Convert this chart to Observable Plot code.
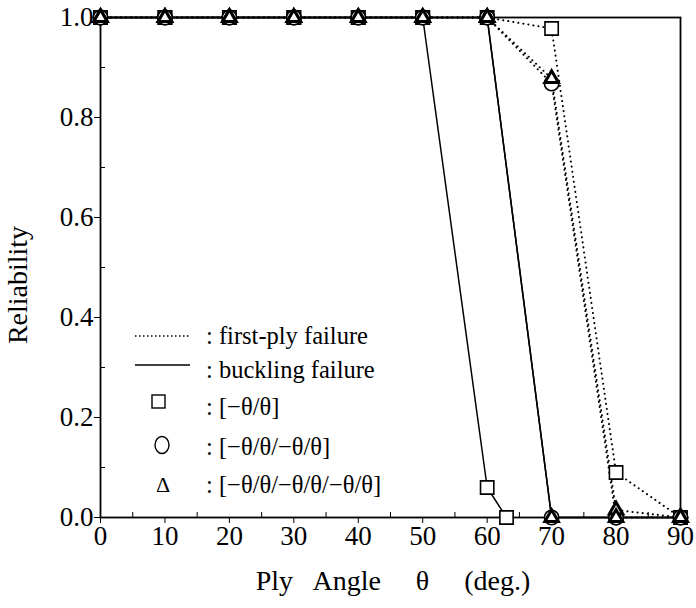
<!DOCTYPE html>
<html><head><meta charset="utf-8">
<script src="https://cdn.jsdelivr.net/npm/d3@7"></script>
<script src="https://cdn.jsdelivr.net/npm/@observablehq/plot@0.6"></script>
<style>
body{margin:0;background:#fff;}
#wrap{position:relative;width:696px;height:608px;}
</style></head><body><div id="wrap"></div>
<script>
// ---- data ----
const angles = [0, 10, 20, 30, 40, 50, 60, 70, 80, 90];
const sqFirstPly = [1, 1, 1, 1, 1, 1, 1, 0.978, 0.09, 0];
const ciFirstPly = [1, 1, 1, 1, 1, 1, 1, 0.868, 0, 0];
const trFirstPly = [1, 1, 1, 1, 1, 1, 1, 0.878, 0.015, 0];
const sqBuckAngles = [0, 10, 20, 30, 40, 50, 60, 63];
const sqBuckling = [1, 1, 1, 1, 1, 1, 0.06, 0];
const ciBuckling = [1, 1, 1, 1, 1, 1, 1, 0, 0, 0];
const trBuckling = [1, 1, 1, 1, 1, 1, 1, 0, 0, 0];

const xTicks = [0, 10, 20, 30, 40, 50, 60, 70, 80, 90];
const xMinor = [5, 15, 25, 35, 45, 55, 65, 75, 85];
const yTicks = [0, 0.2, 0.4, 0.6, 0.8, 1.0];
const yMinor = [0.1, 0.3, 0.5, 0.7, 0.9];

const legendItems = [": first-ply failure", ": buckling failure", ": [\u2212\u03b8/\u03b8]", ": [\u2212\u03b8/\u03b8/\u2212\u03b8/\u03b8]", ": [\u2212\u03b8/\u03b8/\u2212\u03b8/\u03b8/\u2212\u03b8/\u03b8]"];

const mk = (xs, ys) => xs.map((x, i) => ({x, y: ys[i]}));
const sqF = mk(angles, sqFirstPly), ciF = mk(angles, ciFirstPly), trF = mk(angles, trFirstPly);
const sqB = mk(sqBuckAngles, sqBuckling), ciB = mk(angles, ciBuckling), trB = mk(angles, trBuckling);

const font = "'Liberation Serif', 'Times New Roman', serif";
const dotted = {stroke: "black", strokeWidth: 2, strokeDasharray: "0.1,5", strokeLinecap: "round"};
const solid = {stroke: "black", strokeWidth: 1.5};
const dotOpts = (sym, r, sw) => ({x: "x", y: "y", symbol: sym, r, fill: "white", stroke: "black", strokeWidth: sw});

const chart = Plot.plot({
  width: 696, height: 608,
  marginLeft: 100, marginRight: 16, marginTop: 17, marginBottom: 91,
  style: {fontFamily: font, fontSize: "27px", color: "black", background: "white"},
  x: {domain: [0, 90]},
  y: {domain: [0, 1]},
  marks: [
    Plot.frame({stroke: "black", strokeWidth: 1.8}),
    Plot.axisX({ticks: xTicks, tickSize: 6, tickPadding: 2, tickFormat: d => String(d), label: null, fontSize: 27}),
    Plot.axisX({ticks: xMinor, tickSize: -5, text: null, label: null}),
    Plot.axisY({ticks: yTicks, tickSize: 6, tickPadding: 1, tickFormat: d3.format(".1f"), label: null, fontSize: 27}),
    Plot.axisY({ticks: yMinor, tickSize: -5, text: null, label: null}),
    Plot.line(sqF, {x: "x", y: "y", ...dotted}),
    Plot.line(ciF, {x: "x", y: "y", ...dotted}),
    Plot.line(trF, {x: "x", y: "y", ...dotted}),
    Plot.line(sqB, {x: "x", y: "y", ...solid}),
    Plot.line(ciB, {x: "x", y: "y", ...solid}),
    Plot.line(trB, {x: "x", y: "y", ...solid}),
    Plot.dot(sqF, dotOpts("square", 7.5, 1.6)),
    Plot.dot(sqB, dotOpts("square", 7.5, 1.6)),
    Plot.dot(ciF, dotOpts("circle", 7.2, 1.6)),
    Plot.dot(ciB, dotOpts("circle", 7.2, 1.6)),
    Plot.dot(trF, dotOpts("triangle", 5, 3)),
    Plot.dot(trB, dotOpts("triangle", 5, 3))
  ]
});
document.getElementById("wrap").appendChild(chart);

// ---- axis titles and legend (annotations) ----
const svg = d3.select(chart);
svg.append("text").attr("x", 393).attr("y", 590).attr("text-anchor", "middle")
  .attr("font-family", font).attr("font-size", 28).attr("fill", "black")
  .attr("xml:space", "preserve").style("white-space", "pre")
  .text("Ply\u2002 Angle\u2002\u2002 \u03b8\u2002\u2002 (deg.)");
svg.append("text").attr("transform", "translate(27,285) rotate(-90)").attr("text-anchor", "middle")
  .attr("font-family", font).attr("font-size", 28).attr("fill", "black").text("Reliability");

const lg = svg.append("g").attr("font-family", font).attr("font-size", 24.5).attr("fill", "black").attr("text-anchor", "start");
const rowsY = [344, 378, 415, 455, 493];
lg.append("line").attr("x1", 135).attr("x2", 190).attr("y1", 336).attr("y2", 336)
  .attr("stroke", "black").attr("stroke-width", 1.3).attr("stroke-dasharray", "1.5,2.5");
lg.append("line").attr("x1", 135).attr("x2", 190).attr("y1", 365).attr("y2", 365)
  .attr("stroke", "black").attr("stroke-width", 1.5);
lg.append("rect").attr("x", 152).attr("y", 395).attr("width", 13).attr("height", 13)
  .attr("fill", "white").attr("stroke", "black").attr("stroke-width", 1.4);
lg.append("ellipse").attr("cx", 162).attr("cy", 445).attr("rx", 7).attr("ry", 8.5)
  .attr("fill", "none").attr("stroke", "black").attr("stroke-width", 1.4);
lg.append("text").attr("x", 163).attr("y", 492).attr("text-anchor", "middle").attr("font-size", 22).text("\u0394");
legendItems.forEach((t, i) => lg.append("text").attr("x", 206).attr("y", rowsY[i]).text(t));
</script></body></html>
